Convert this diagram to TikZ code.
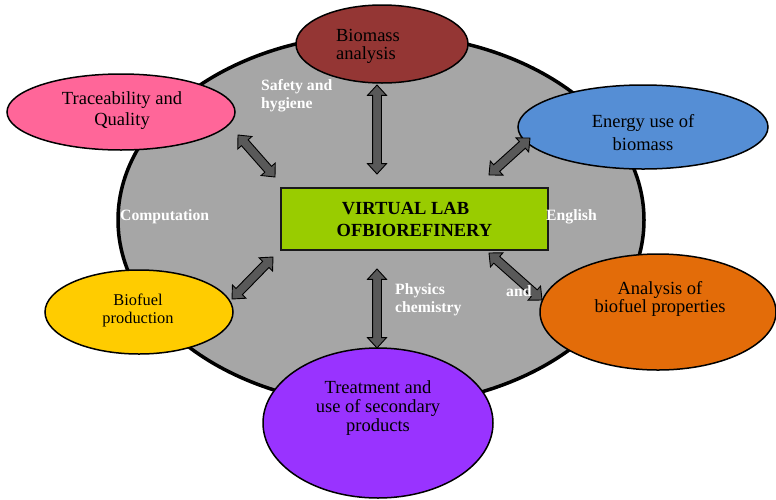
\documentclass[tikz,border=0pt]{standalone}
\usepackage{fontspec}
\setmainfont{Liberation Serif}
\usetikzlibrary{shapes.geometric,shapes.arrows,calc}

\definecolor{hubgray}{HTML}{A6A6A6}
\definecolor{biomassred}{HTML}{943634}
\definecolor{tracepink}{HTML}{FF6699}
\definecolor{energyblue}{HTML}{558ED5}
\definecolor{fuelyellow}{HTML}{FFCC00}
\definecolor{treatpurple}{HTML}{9933FF}
\definecolor{propsorange}{HTML}{E36C09}
\definecolor{labgreen}{HTML}{99CC00}
\definecolor{arrowgray}{HTML}{595959}

% double-headed block arrow between two named points
\newcommand\linkarrow[3]{%
  \path let \p1=($(#3)-(#2)$), \n1={veclen(\x1,\y1)} in
    (#2) -- (#3) node[link, midway, sloped, minimum height=\n1] (#1) {};}

\begin{document}
\begin{tikzpicture}[x=1pt,y=-1pt,
  topic/.style={ellipse, draw=black, line width=1.5pt, inner sep=0pt},
  topictext/.style={align=center, font=\fontsize{18.5}{18.5}\selectfont, text=black, inner sep=0pt},
  fieldtext/.style={align=left, anchor=west, font=\bfseries\fontsize{15.7}{18}\selectfont, text=white, inner sep=0pt},
  link/.style={double arrow, draw=black, line width=0.9pt, fill=arrowgray,
    inner sep=4pt, minimum width=0pt, double arrow head extend=5pt,
    double arrow tip angle=85}
]
\useasboundingbox (0,0) rectangle (776,499);

% large grey disc behind everything
\node[ellipse, draw=black, line width=3.5pt, fill=hubgray,
      minimum width=526pt, minimum height=372pt] (hub) at (381,220) {};

% surrounding topics
\node[topic, fill=biomassred,  minimum width=172pt, minimum height=78pt]  (biomass) at (382,44) {};
\node[topic, fill=tracepink,   minimum width=228pt, minimum height=76pt]  (trace)   at (121,112) {};
\node[topic, fill=energyblue,  minimum width=250pt, minimum height=84pt]  (energy)  at (643,127) {};
\node[topic, fill=fuelyellow,  minimum width=188pt, minimum height=84pt]  (fuel)    at (139,312) {};
\node[topic, fill=treatpurple, minimum width=230pt, minimum height=150pt] (treat)   at (378,423) {};
\node[topic, fill=propsorange, minimum width=236pt, minimum height=116pt] (props)   at (658,312) {};

% central box
\node[draw=black!90, line width=1.5pt, fill=labgreen, minimum width=267pt, minimum height=62pt,
      align=center, inner sep=0pt, font=\bfseries\fontsize{18.5}{22}\selectfont]
  (lab) at (414.5,219) {VIRTUAL LAB\hspace*{18pt}\\OFBIOREFINERY};

% arrow end points
\coordinate (a1s) at (377,85);  \coordinate (a1e) at (377,174);
\coordinate (a2s) at (377,269); \coordinate (a2e) at (377,348);
\coordinate (a3s) at (238,135); \coordinate (a3e) at (275,177);
\coordinate (a4s) at (530,138); \coordinate (a4e) at (489,175);
\coordinate (a5s) at (273,257); \coordinate (a5e) at (232,299);
\coordinate (a6s) at (489,253); \coordinate (a6e) at (542,300);

\linkarrow{l1}{a1s}{a1e}
\linkarrow{l2}{a2s}{a2e}
\linkarrow{l3}{a3s}{a3e}
\linkarrow{l4}{a4s}{a4e}
\linkarrow{l5}{a5s}{a5e}
\linkarrow{l6}{a6s}{a6e}

% topic captions
\node[topictext, align=left, font=\fontsize{18.5}{18}\selectfont] (biomass-t) at (368,46) {Biomass\\analysis};
\node[topictext, font=\fontsize{18.5}{21}\selectfont] (trace-t) at (122,111) {Traceability and\\Quality};
\node[topictext, font=\fontsize{18.5}{23}\selectfont] (energy-t) at (643,132.5) {Energy use of\\biomass};
\node[topictext, font=\fontsize{16.4}{18}\selectfont] (fuel-t) at (138,310) {Biofuel\\production};
\node[topictext, font=\fontsize{18.5}{19}\selectfont] (treat-t) at (378,408) {Treatment and\\use of secondary\\products};
\node[topictext, font=\fontsize{18.5}{18}\selectfont] (props-t) at (660,299) {Analysis of\\biofuel properties};

% discipline labels on the grey disc
\node[fieldtext] (safety)  at (261,96)  {Safety and\\hygiene};
\node[fieldtext] (compu)   at (120,217) {Computation};
\node[fieldtext] (english) at (546,217) {English};
\node[fieldtext] (physics) at (395,300) {Physics\\chemistry};
\node[fieldtext] (andlbl)  at (506,291) {and};
\end{tikzpicture}
\end{document}
